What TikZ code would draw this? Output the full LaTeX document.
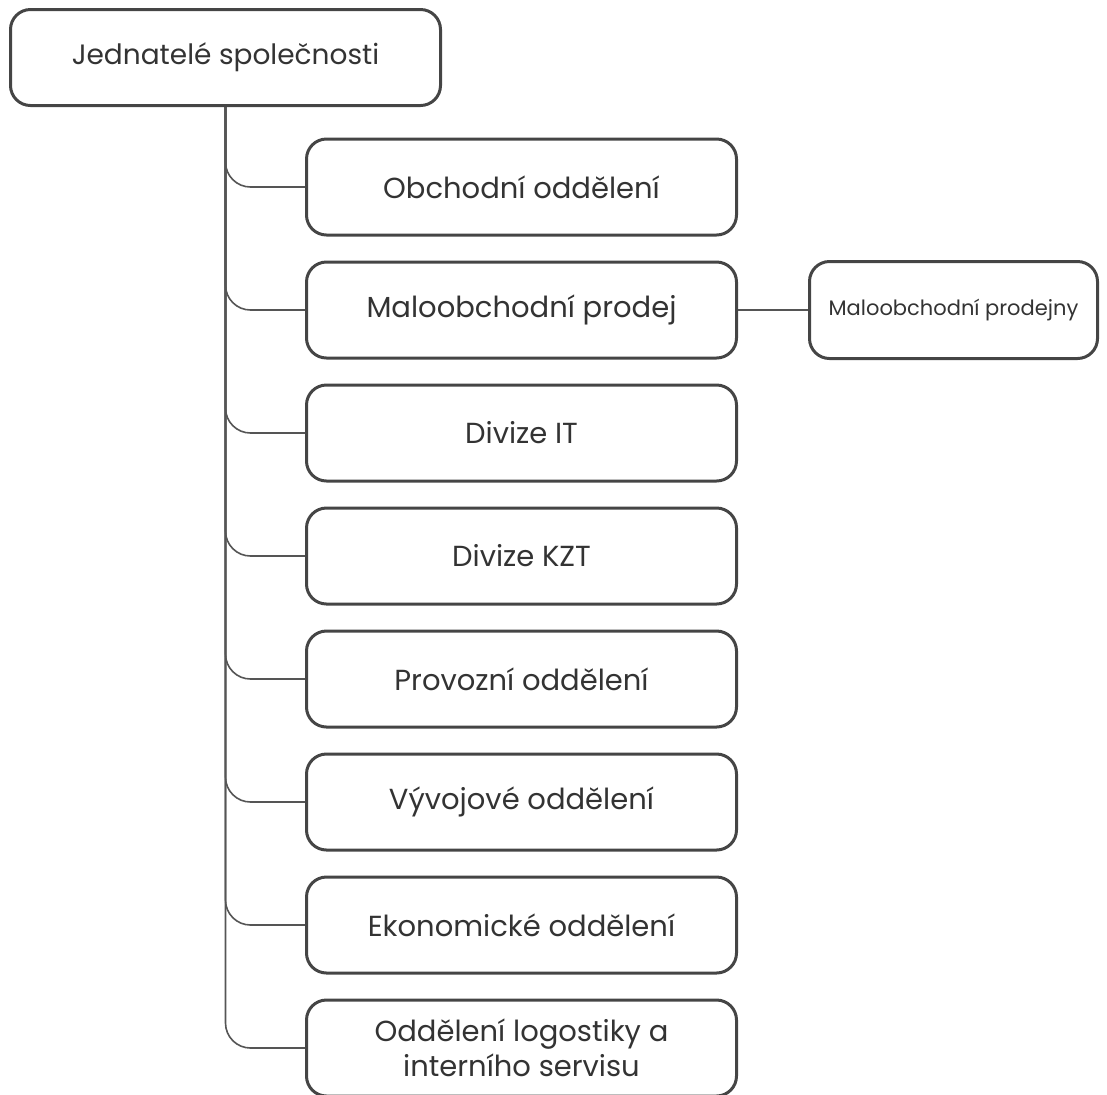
\documentclass[tikz,border=0pt]{standalone}
\usepackage{fontspec}
\setmainfont{Poppins}
\usetikzlibrary{positioning}
\definecolor{boxline}{HTML}{454545}
\definecolor{linkline}{HTML}{555555}
\definecolor{labeltext}{HTML}{333333}

\begin{document}
\begin{tikzpicture}[
        x=0.5pt, y=-0.5pt,
        unit/.style={
             rectangle
            , align=center
            , draw=boxline
            , line width=1.5pt
            , rounded corners=10pt
            , text=labeltext
            , minimum width=215pt
            , minimum height=48pt
            , font=\fontsize{14.5}{17.5}\selectfont
        },
        head/.style={
            unit
            , font=\fontsize{14}{17}\selectfont
        },
        subunit/.style={
            unit
            , minimum width=144pt
            , minimum height=48.5pt
            , font=\fontsize{10.5}{13}\selectfont
        },
        link/.style={
            draw=linkline
            , line width=0.8pt
            , rounded corners=12.5pt
        },
        node distance=12pt
        ]
        \useasboundingbox (0,0) rectangle (1107,1094);

        \node[head] (board) at (225.5,57.5) {Jednatelé společnosti};
        \node[unit] (sales) at (521.5,187) {Obchodní oddělení};
        \node[unit,below=of sales] (retail) {Maloobchodní prodej};
        \node[unit,below=of retail] (it) {Divize IT};
        \node[unit,below=of it] (kzt) {Divize KZT};
        \node[unit,below=of kzt] (ops) {Provozní oddělení};
        \node[unit,below=of ops] (dev) {Vývojové oddělení};
        \node[unit,below=of dev] (econ) {Ekonomické oddělení};
        \node[unit,below=of econ] (logistics) {Oddělení logostiky a\\interního servisu};
        \node[subunit,right=35pt of retail] (shops) {Maloobchodní prodejny};

        \foreach \dept in {sales,retail,it,kzt,ops,dev,econ,logistics}
            \draw[link] (board.south) |- (\dept.west);
        \draw[link] (retail) -- (shops);

    \end{tikzpicture}
\end{document}
